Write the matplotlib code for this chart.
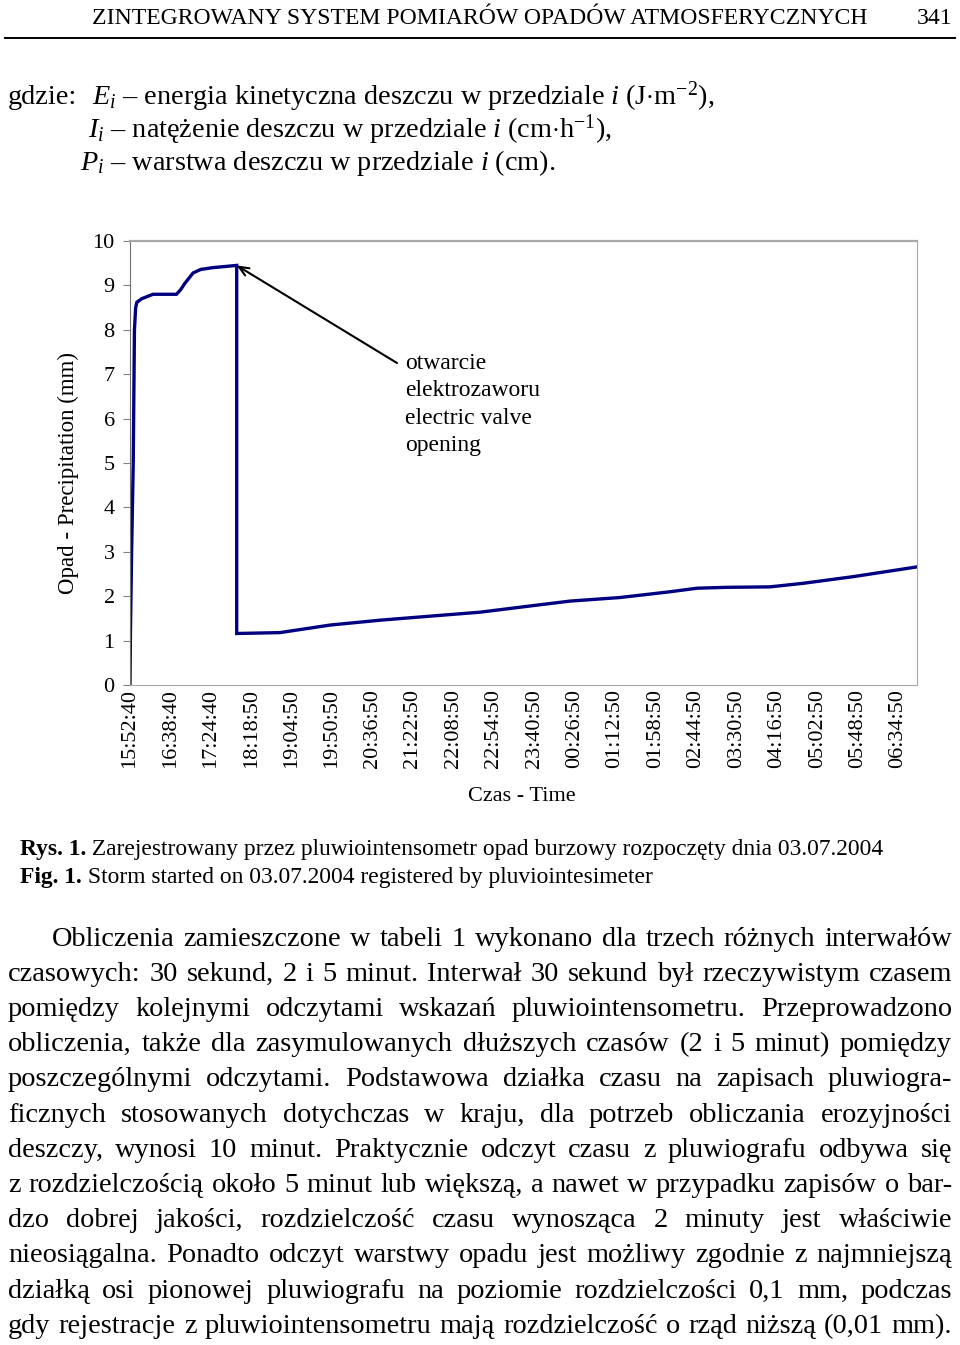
"""Page scan rebuild: precipitation record from the pluviointensometer (Rys. 1)."""

import matplotlib

matplotlib.use("Agg")
import matplotlib.pyplot as plt
from matplotlib.lines import Line2D

plt.rcParams["font.family"] = ["Liberation Serif", "DejaVu Serif"]
plt.rcParams["mathtext.fontset"] = "custom"
plt.rcParams["mathtext.rm"] = "Liberation Serif"
plt.rcParams["mathtext.it"] = "Liberation Serif:italic"

W, H = 960, 1345

# --- chart data (x in units of tick-label steps, y in mm) ---
TIME_LABELS = [
    "15:52:40", "16:38:40", "17:24:40", "18:18:50", "19:04:50", "19:50:50",
    "20:36:50", "21:22:50", "22:08:50", "22:54:50", "23:40:50", "00:26:50",
    "01:12:50", "01:58:50", "02:44:50", "03:30:50", "04:16:50", "05:02:50",
    "05:48:50", "06:34:50",
]
CURVE_X = [0.0, 0.01, 0.04, 0.08, 0.11, 0.14, 0.17, 0.29, 0.57, 1.15, 1.25,
           1.36, 1.56, 1.75, 2.05, 2.64, 2.64, 3.71, 4.95, 6.19, 7.42, 8.66,
           9.90, 10.89, 12.12, 13.36, 14.03, 14.77, 15.83, 16.65, 17.89, 19.47]
CURVE_Y = [0.0, 1.1, 3.0, 5.0, 8.0, 8.5, 8.62, 8.7, 8.8, 8.8, 8.9,
           9.05, 9.28, 9.36, 9.4, 9.45, 1.16, 1.18, 1.35, 1.46, 1.55, 1.64,
           1.78, 1.89, 1.97, 2.10, 2.18, 2.20, 2.21, 2.29, 2.44, 2.66]
VALVE_POINT = (2.64, 9.45)
Y_TICKS = list(range(0, 11))

HEADER = "ZINTEGROWANY SYSTEM POMIARÓW OPADÓW ATMOSFERYCZNYCH"
PAGE_NO = "341"
GDZIE = [
    r"$E_i$ – energia kinetyczna deszczu w przedziale $i$ (J$\cdot$m$^{-2}$),",
    r"$I_i$ – natężenie deszczu w przedziale $i$ (cm$\cdot$h$^{-1}$),",
    r"$P_i$ – warstwa deszczu w przedziale $i$ (cm).",
]
CAPTIONS = [
    ("Rys. 1.", " Zarejestrowany przez pluwiointensometr opad burzowy rozpoczęty dnia 03.07.2004"),
    ("Fig. 1.", " Storm started on 03.07.2004 registered by pluviointesimeter"),
]
BODY = [
    "Obliczenia zamieszczone w tabeli 1 wykonano dla trzech różnych interwałów",
    "czasowych: 30 sekund, 2 i 5 minut. Interwał 30 sekund był rzeczywistym czasem",
    "pomiędzy kolejnymi odczytami wskazań pluwiointensometru. Przeprowadzono",
    "obliczenia, także dla zasymulowanych dłuższych czasów (2 i 5 minut) pomiędzy",
    "poszczególnymi odczytami. Podstawowa działka czasu na zapisach pluwiogra-",
    "ficznych stosowanych dotychczas w kraju, dla potrzeb obliczania erozyjności",
    "deszczy, wynosi 10 minut. Praktycznie odczyt czasu z pluwiografu odbywa się",
    "z rozdzielczością około 5 minut lub większą, a nawet w przypadku zapisów o bar-",
    "dzo dobrej jakości, rozdzielczość czasu wynosząca 2 minuty jest właściwie",
    "nieosiągalna. Ponadto odczyt warstwy opadu jest możliwy zgodnie z najmniejszą",
    "działką osi pionowej pluwiografu na poziomie rozdzielczości 0,1 mm, podczas",
    "gdy rejestracje z pluwiointensometru mają rozdzielczość o rząd niższą (0,01 mm).",
]

fig = plt.figure(figsize=(W / 100, H / 100), dpi=100)
renderer = fig.canvas.get_renderer()


def pos(x, y):
    return x / W, 1 - y / H


def width_of(artist):
    return artist.get_window_extent(renderer).width


def fitted_size(s, target, base=20, **kw):
    t = fig.text(0, 0, s, fontsize=base, **kw)
    w = width_of(t)
    t.remove()
    return base * target / w


# --- header ---
hsize = fitted_size(HEADER, 868 - 92)
fig.text(*pos(92, 18), HEADER, fontsize=hsize, va="center")
fig.text(*pos(952, 18), PAGE_NO, fontsize=hsize, va="center", ha="right")
fig.add_artist(Line2D([5 / W, 955 / W], [1 - 38 / H] * 2, color="black", lw=1.4))

# --- "gdzie" block ---
gsize = fitted_size(GDZIE[0], 713 - 92)
fig.text(*pos(8, 97), "gdzie:", fontsize=gsize, va="center")
for line, x0, y in zip(GDZIE, [92, 88, 80], [97, 130, 163]):
    fig.text(*pos(x0, y), line, fontsize=gsize, va="center")

# --- chart ---
ax = fig.add_axes([130 / W, 1 - 685 / H, 787 / W, 444 / H])
ax.plot(CURVE_X, CURVE_Y, color="#000080", lw=2.4, solid_joinstyle="miter")
ax.set_xlim(0, 19.47)
ax.set_ylim(0, 10)
ax.set_yticks(Y_TICKS)
ax.set_yticklabels([str(v) for v in Y_TICKS], fontsize=16)
ax.set_xticks(range(len(TIME_LABELS)))
ax.set_xticklabels(TIME_LABELS, rotation=90, fontsize=16)
ax.tick_params(axis="x", length=0, pad=3)
ax.tick_params(axis="y", length=5, color="#808080", pad=6)
ax.spines["left"].set_color("#707070")
for side in ("top", "right", "bottom"):
    ax.spines[side].set_color("#a8a8a8")
ax.spines["top"].set_linewidth(1.6)

fig.text(*pos(68, 473), "Opad - Precipitation (mm)", rotation=90,
         fontsize=16.5, ha="center", va="center")
fig.text(*pos(522, 797), "Czas - Time", fontsize=16, ha="center", va="center")

ax.annotate("", xy=VALVE_POINT, xycoords="data",
            xytext=(397, H - 363), textcoords="figure pixels",
            arrowprops=dict(arrowstyle="->,head_length=0.7,head_width=0.3",
                            color="black", lw=1.5, shrinkA=0, shrinkB=0))
fig.text(*pos(405, 353), "otwarcie\nelektrozaworu\nelectric valve\nopening",
         fontsize=17, va="top", ha="left", linespacing=1.4)

# --- caption ---
csize = fitted_size("".join(CAPTIONS[0]), 883 - 20)
for (bold, rest), y in zip(CAPTIONS, [849, 878]):
    b = fig.text(*pos(20, y), bold, fontsize=csize, fontweight="bold", va="center")
    fig.text(*pos(20 + width_of(b), y), rest, fontsize=csize, va="center")

# --- justified body text ---
x_left, x_right, indent = 8, 952, 52
bsize = min(fitted_size(line, x_right - (indent if i == 0 else x_left))
            for i, line in enumerate(BODY)) * 0.99
for i, line in enumerate(BODY):
    y = 939 + i * 35.2
    x0 = indent if i == 0 else x_left
    words = line.split()
    arts = [fig.text(0, 0, w, fontsize=bsize, va="center") for w in words]
    widths = [width_of(a) for a in arts]
    gap = (x_right - x0 - sum(widths)) / (len(words) - 1)
    x = x0
    for a, w in zip(arts, widths):
        a.set_position(pos(x, y))
        x += w + gap

fig.savefig("out.png", dpi=100)
